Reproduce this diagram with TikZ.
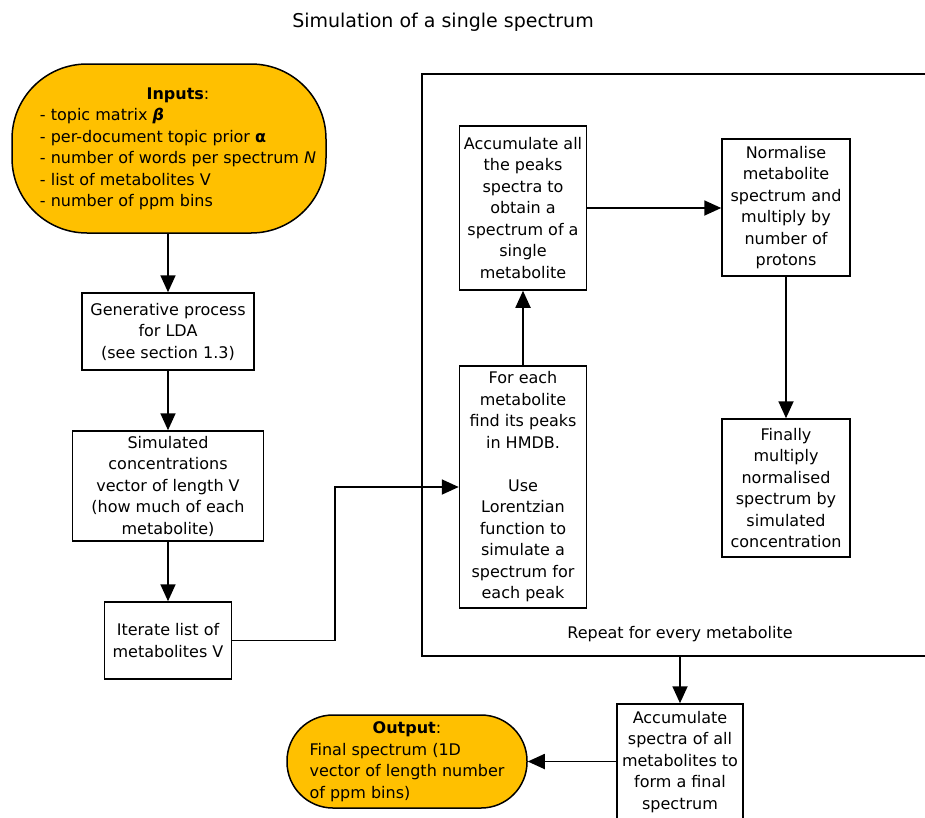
\documentclass[tikz,border=0pt]{standalone}
\usepackage{fontspec}
\setmainfont{DejaVu Sans}
\usepackage{tikz}
\usepackage{xcolor}
\usetikzlibrary{arrows.meta,positioning,calc}

\definecolor{termorange}{HTML}{FFC000}

\begin{document}
\begin{tikzpicture}[
            x=1pt, y=-1pt,
            block/.style={rectangle, draw, line width=1.5pt, align=center, inner sep=2pt,
                         font=\fontsize{16}{21.5}\selectfont},
            term/.style={block, fill=termorange},
            arrow/.style={-{Triangle[length=17pt,width=15pt]}, line width=1.8pt}
        ]
            \useasboundingbox (0,0) rectangle (925,817);

            % Title
            \node[font=\fontsize{19}{23}\selectfont] (title) at (443,22) {Simulation of a single spectrum};

            % Left column
            \node[term, rounded corners=75pt, minimum width=314pt, minimum height=169pt] (inputs) at (169,148.5)
                {\hspace*{18pt}\begin{tabular}{@{}l@{}}
                 \multicolumn{1}{@{}c@{}}{\textbf{Inputs}:}\\
                 - topic matrix \textbf{\textit{β}}\\
                 - per-document topic prior \textbf{α}\\
                 - number of words per spectrum \textit{N}\\
                 - list of metabolites V\\
                 - number of ppm bins
                 \end{tabular}};
            \node[block, minimum width=172pt, minimum height=77pt] (gen) at (168,331.5)
                {Generative process\\for LDA\\(see section 1.3)};
            \node[block, minimum width=191pt, minimum height=110pt] (sim) at (168,486)
                {Simulated\\concentrations\\vector of length V\\(how much of each\\metabolite)};
            \node[block, minimum width=127pt, minimum height=77pt] (iter) at (168,640.5)
                {Iterate list of\\metabolites V};

            % Repeat frame
            \draw[line width=1.5pt] (935,74) -| (422,656) -- (935,656);
            \coordinate (repbot) at (680,656);
            \node[font=\fontsize{16}{21.5}\selectfont] (replabel) at (680,634) {Repeat for every metabolite};

            \node[block, minimum width=127pt, minimum height=164pt] (accum) at (523,208)
                {Accumulate all\\the peaks\\spectra to\\obtain a\\spectrum of a\\single\\metabolite};
            \node[block, minimum width=127pt, minimum height=242pt] (foreach) at (523,487)
                {For each\\metabolite\\find its peaks\\in HMDB.\\[21.5pt]Use\\Lorentzian\\function to\\simulate a\\spectrum for\\each peak};
            \node[block, minimum width=128pt, minimum height=137pt] (norm) at (786,207.5)
                {Normalise\\metabolite\\spectrum and\\multiply by\\number of\\protons};
            \node[block, minimum width=128pt, minimum height=138pt] (finally) at (786,488)
                {Finally\\multiply\\normalised\\spectrum by\\simulated\\concentration};

            % Bottom row
            \node[block, minimum width=126pt, minimum height=116pt] (final) at (680,762)
                {Accumulate\\spectra of all\\metabolites to\\form a final\\spectrum};
            \node[term, rounded corners=46pt, minimum width=240pt, minimum height=93pt] (output) at (407,761.5)
                {\begin{tabular}{@{}l@{}}
                 \multicolumn{1}{@{}c@{}}{\textbf{Output}:}\\
                 Final spectrum (1D\\
                 vector of length number\\
                 of ppm bins)
                 \end{tabular}};

            % Arrows
            \draw[arrow] (gen.north |- inputs.south) -- (gen.north);
            \draw[arrow] (gen) -- (sim);
            \draw[arrow] (sim) -- (iter);
            \draw[arrow] (iter.east) -- ++(103,0) |- (foreach.west);
            \draw[arrow] (foreach) -- (accum);
            \draw[arrow] (accum) -- (accum -| norm.west);
            \draw[arrow] (norm) -- (finally);
            \draw[arrow] (repbot) -- (final);
            \draw[arrow] (final.west |- output.east) -- (output.east);
        \end{tikzpicture}
\end{document}
